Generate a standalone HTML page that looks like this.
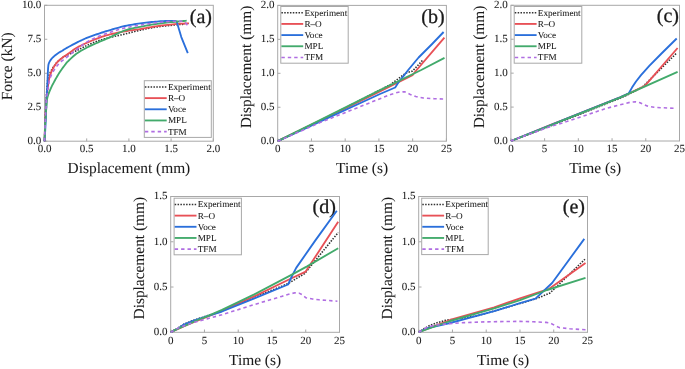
<!DOCTYPE html>
<html><head><meta charset="utf-8"><style>
html,body{margin:0;padding:0;background:#fff;}
svg{display:block;font-family:"Liberation Serif", serif;text-rendering:geometricPrecision;will-change:transform;}
text{stroke:#1a1a1a;stroke-width:0.06px;}
</style></head><body>
<svg width="685" height="369" viewBox="0 0 685 369">
<rect width="685" height="369" fill="#fff"/>
<rect x="44.5" y="5.3" width="168.8" height="135.9" fill="none" stroke="#a8a8a8" stroke-width="1"/>
<line x1="44.5" y1="141.2" x2="44.5" y2="138.4" stroke="#a8a8a8" stroke-width="1"/>
<text x="44.5" y="152.3" font-size="11" text-anchor="middle" fill="#1a1a1a">0.0</text>
<line x1="86.7" y1="141.2" x2="86.7" y2="138.4" stroke="#a8a8a8" stroke-width="1"/>
<text x="86.7" y="152.3" font-size="11" text-anchor="middle" fill="#1a1a1a">0.5</text>
<line x1="128.9" y1="141.2" x2="128.9" y2="138.4" stroke="#a8a8a8" stroke-width="1"/>
<text x="128.9" y="152.3" font-size="11" text-anchor="middle" fill="#1a1a1a">1.0</text>
<line x1="171.1" y1="141.2" x2="171.1" y2="138.4" stroke="#a8a8a8" stroke-width="1"/>
<text x="171.1" y="152.3" font-size="11" text-anchor="middle" fill="#1a1a1a">1.5</text>
<line x1="213.3" y1="141.2" x2="213.3" y2="138.4" stroke="#a8a8a8" stroke-width="1"/>
<text x="213.3" y="152.3" font-size="11" text-anchor="middle" fill="#1a1a1a">2.0</text>
<line x1="44.5" y1="141.2" x2="47.3" y2="141.2" stroke="#a8a8a8" stroke-width="1"/>
<text x="41.3" y="144.1" font-size="11" text-anchor="end" fill="#1a1a1a">0.0</text>
<line x1="44.5" y1="107.22" x2="47.3" y2="107.22" stroke="#a8a8a8" stroke-width="1"/>
<text x="41.3" y="110.12" font-size="11" text-anchor="end" fill="#1a1a1a">2.5</text>
<line x1="44.5" y1="73.25" x2="47.3" y2="73.25" stroke="#a8a8a8" stroke-width="1"/>
<text x="41.3" y="76.15" font-size="11" text-anchor="end" fill="#1a1a1a">5.0</text>
<line x1="44.5" y1="39.28" x2="47.3" y2="39.28" stroke="#a8a8a8" stroke-width="1"/>
<text x="41.3" y="42.18" font-size="11" text-anchor="end" fill="#1a1a1a">7.5</text>
<line x1="44.5" y1="5.3" x2="47.3" y2="5.3" stroke="#a8a8a8" stroke-width="1"/>
<text x="41.3" y="8.2" font-size="11" text-anchor="end" fill="#1a1a1a">10.0</text>
<text x="128.9" y="173.1" font-size="15.4" text-anchor="middle" fill="#1a1a1a">Displacement (mm)</text>
<text x="11.8" y="32.4" font-size="15.4" text-anchor="end" fill="#1a1a1a" transform="rotate(-90 11.8 32.4)">Force (kN)</text>
<text x="212.0" y="22.7" font-size="20" text-anchor="end" fill="#1a1a1a" style="stroke-width:0.3px">(a)</text>
<polyline points="44.50,141.20 44.56,139.41 44.63,137.03 44.72,134.19 44.83,131.04 44.94,127.70 45.05,124.33 45.18,121.05 45.30,118.00 45.43,115.03 45.58,111.93 45.74,108.79 45.91,105.67 46.07,102.66 46.23,99.83 46.37,97.25 46.50,95.00 46.61,93.10 46.71,91.50 46.80,90.14 46.88,88.96 46.96,87.91 47.04,86.94 47.12,85.98 47.20,85.00 47.28,84.02 47.36,83.11 47.44,82.26 47.51,81.47 47.59,80.72 47.68,80.02 47.78,79.35 47.90,78.70 48.02,78.11 48.15,77.59 48.29,77.12 48.43,76.68 48.59,76.25 48.77,75.81 48.97,75.33 49.20,74.80 49.46,74.20 49.76,73.56 50.08,72.89 50.42,72.20 50.77,71.51 51.12,70.84 51.47,70.20 51.80,69.60 52.12,69.05 52.45,68.52 52.77,68.02 53.10,67.53 53.42,67.06 53.75,66.60 54.07,66.15 54.40,65.70 54.71,65.27 54.99,64.86 55.27,64.47 55.55,64.08 55.85,63.69 56.18,63.29 56.56,62.86 57.00,62.40 57.51,61.89 58.10,61.33 58.73,60.75 59.39,60.15 60.06,59.56 60.74,58.99 61.39,58.47 62.00,58.00 62.58,57.59 63.13,57.23 63.68,56.91 64.21,56.61 64.75,56.33 65.29,56.06 65.83,55.79 66.40,55.50 66.98,55.21 67.56,54.94 68.14,54.67 68.73,54.41 69.33,54.15 69.94,53.88 70.56,53.60 71.20,53.30 71.82,53.00 72.40,52.72 72.98,52.44 73.58,52.15 74.22,51.83 74.94,51.48 75.75,51.07 76.70,50.60 77.80,50.05 79.03,49.42 80.36,48.73 81.77,48.01 83.22,47.27 84.68,46.54 86.11,45.85 87.50,45.20 88.85,44.59 90.20,44.00 91.55,43.42 92.89,42.86 94.24,42.32 95.59,41.79 96.95,41.29 98.30,40.80 99.62,40.35 100.90,39.92 102.16,39.53 103.44,39.15 104.75,38.78 106.13,38.40 107.60,38.01 109.20,37.60 110.94,37.17 112.82,36.73 114.79,36.29 116.83,35.84 118.90,35.38 120.98,34.92 123.02,34.46 125.00,34.00 126.93,33.53 128.84,33.05 130.75,32.55 132.64,32.06 134.53,31.58 136.42,31.10 138.31,30.64 140.20,30.20 142.06,29.78 143.87,29.38 145.67,28.99 147.47,28.61 149.30,28.24 151.20,27.88 153.19,27.54 155.30,27.20 157.61,26.87 160.13,26.54 162.78,26.22 165.47,25.91 168.12,25.61 170.65,25.35 172.97,25.11 175.00,24.90 176.78,24.73 178.42,24.60 179.90,24.49 181.23,24.41 182.41,24.34 183.43,24.29 184.29,24.24 185.00,24.20" fill="none" stroke="#333333" stroke-width="1.6" stroke-linejoin="round" stroke-dasharray="1.5 1.35"/>
<polyline points="44.50,141.20 44.56,139.57 44.63,137.41 44.72,134.84 44.82,131.97 44.93,128.94 45.05,125.85 45.17,122.83 45.30,120.00 45.44,117.22 45.59,114.31 45.75,111.35 45.92,108.39 46.09,105.52 46.26,102.78 46.43,100.25 46.60,98.00 46.76,96.05 46.91,94.36 47.06,92.87 47.21,91.53 47.36,90.28 47.53,89.06 47.70,87.82 47.90,86.50 48.11,85.12 48.32,83.74 48.55,82.37 48.78,81.01 49.03,79.69 49.30,78.40 49.59,77.17 49.90,76.00 50.24,74.89 50.60,73.84 50.98,72.83 51.38,71.86 51.80,70.93 52.22,70.03 52.66,69.16 53.10,68.30 53.54,67.47 53.99,66.67 54.45,65.90 54.92,65.16 55.40,64.44 55.91,63.74 56.44,63.06 57.00,62.40 57.59,61.76 58.22,61.14 58.87,60.55 59.54,59.98 60.22,59.42 60.91,58.88 61.61,58.34 62.30,57.80 62.97,57.28 63.63,56.80 64.28,56.34 64.94,55.89 65.63,55.42 66.35,54.93 67.14,54.39 68.00,53.80 68.93,53.14 69.91,52.42 70.95,51.67 72.03,50.88 73.15,50.09 74.31,49.30 75.49,48.53 76.70,47.80 77.95,47.10 79.25,46.40 80.60,45.72 81.97,45.05 83.36,44.39 84.75,43.75 86.14,43.11 87.50,42.50 88.85,41.90 90.20,41.32 91.55,40.74 92.89,40.19 94.24,39.64 95.59,39.12 96.95,38.60 98.30,38.10 99.62,37.62 100.90,37.16 102.16,36.71 103.44,36.28 104.75,35.86 106.13,35.44 107.60,35.02 109.20,34.60 110.94,34.17 112.82,33.74 114.79,33.30 116.83,32.87 118.90,32.45 120.98,32.04 123.02,31.66 125.00,31.30 126.93,30.98 128.84,30.68 130.75,30.42 132.64,30.16 134.53,29.91 136.42,29.66 138.31,29.39 140.20,29.10 142.06,28.78 143.87,28.45 145.67,28.11 147.47,27.76 149.30,27.41 151.20,27.06 153.19,26.72 155.30,26.40 157.58,26.08 160.04,25.76 162.60,25.44 165.22,25.13 167.83,24.84 170.37,24.56 172.78,24.31 175.00,24.10 177.12,23.92 179.23,23.78 181.28,23.65 183.23,23.56 185.03,23.48 186.62,23.41 187.96,23.35 189.00,23.30" fill="none" stroke="#e85056" stroke-width="1.85" stroke-linejoin="round"/>
<polyline points="44.50,141.20 44.58,140.02 44.68,138.54 44.80,136.79 44.93,134.79 45.07,132.58 45.22,130.19 45.36,127.65 45.50,125.00 45.64,122.04 45.78,118.65 45.92,114.98 46.07,111.21 46.21,107.46 46.35,103.91 46.48,100.71 46.60,98.00 46.71,95.81 46.81,94.01 46.90,92.51 46.99,91.22 47.08,90.06 47.16,88.94 47.23,87.78 47.30,86.50 47.36,85.13 47.42,83.77 47.47,82.42 47.51,81.09 47.56,79.78 47.60,78.50 47.65,77.23 47.70,76.00 47.76,74.77 47.81,73.53 47.87,72.30 47.93,71.09 47.99,69.94 48.05,68.86 48.12,67.88 48.20,67.00 48.27,66.26 48.33,65.66 48.39,65.16 48.46,64.72 48.54,64.32 48.65,63.92 48.80,63.49 49.00,63.00 49.24,62.46 49.50,61.91 49.80,61.35 50.12,60.79 50.49,60.22 50.88,59.64 51.32,59.07 51.80,58.50 52.33,57.92 52.93,57.32 53.57,56.72 54.24,56.12 54.94,55.53 55.64,54.95 56.33,54.41 57.00,53.90 57.67,53.43 58.36,52.98 59.06,52.55 59.76,52.15 60.44,51.77 61.10,51.40 61.72,51.04 62.30,50.70 62.77,50.40 63.13,50.17 63.42,49.96 63.70,49.77 64.02,49.55 64.45,49.29 65.02,48.95 65.80,48.50 66.81,47.93 68.01,47.26 69.35,46.52 70.79,45.73 72.29,44.91 73.81,44.10 75.29,43.32 76.70,42.60 78.05,41.92 79.41,41.26 80.76,40.61 82.11,39.97 83.45,39.35 84.80,38.74 86.15,38.16 87.50,37.60 88.85,37.07 90.20,36.56 91.55,36.07 92.89,35.61 94.24,35.15 95.59,34.70 96.95,34.25 98.30,33.80 99.62,33.35 100.90,32.92 102.16,32.50 103.44,32.08 104.75,31.66 106.13,31.22 107.60,30.77 109.20,30.30 110.94,29.79 112.82,29.24 114.79,28.67 116.83,28.09 118.90,27.52 120.98,26.97 123.02,26.46 125.00,26.00 126.93,25.59 128.84,25.21 130.75,24.86 132.64,24.54 134.53,24.23 136.42,23.95 138.31,23.67 140.20,23.40 142.11,23.14 144.04,22.89 145.98,22.66 147.91,22.44 149.82,22.23 151.70,22.04 153.53,21.86 155.30,21.70 157.03,21.55 158.74,21.42 160.42,21.29 162.06,21.19 163.65,21.09 165.18,21.02 166.63,20.95 168.00,20.90 169.32,20.87 170.62,20.86 171.87,20.88 173.04,20.90 174.12,20.93 175.07,20.96 175.87,20.99 176.50,21.00" fill="none" stroke="#2a6fdb" stroke-width="1.85" stroke-linejoin="round"/>
<polyline points="176.50,21.00 181.30,37.10 187.80,53.10" fill="none" stroke="#2a6fdb" stroke-width="1.85" stroke-linejoin="round"/>
<polyline points="44.50,141.20 44.56,139.68 44.64,137.63 44.73,135.18 44.84,132.47 44.95,129.66 45.07,126.88 45.18,124.28 45.30,122.00 45.42,119.97 45.54,118.04 45.66,116.19 45.79,114.42 45.92,112.73 46.05,111.10 46.17,109.52 46.30,108.00 46.41,106.55 46.50,105.19 46.58,103.91 46.66,102.68 46.76,101.49 46.90,100.33 47.07,99.17 47.30,98.00 47.59,96.83 47.93,95.67 48.31,94.53 48.72,93.41 49.15,92.31 49.60,91.22 50.05,90.15 50.50,89.10 50.94,88.08 51.39,87.10 51.85,86.15 52.32,85.21 52.80,84.27 53.31,83.32 53.84,82.33 54.40,81.30 55.00,80.21 55.63,79.07 56.29,77.90 56.97,76.71 57.66,75.53 58.35,74.37 59.03,73.26 59.70,72.20 60.37,71.19 61.06,70.18 61.75,69.21 62.44,68.26 63.11,67.36 63.75,66.51 64.35,65.72 64.90,65.00 65.35,64.40 65.69,63.92 65.97,63.53 66.23,63.18 66.52,62.83 66.88,62.42 67.36,61.93 68.00,61.30 68.81,60.52 69.73,59.62 70.76,58.64 71.87,57.61 73.04,56.56 74.25,55.52 75.47,54.52 76.70,53.60 77.95,52.74 79.25,51.90 80.60,51.08 81.97,50.28 83.36,49.51 84.75,48.75 86.14,48.02 87.50,47.30 88.85,46.61 90.20,45.95 91.55,45.32 92.89,44.70 94.24,44.10 95.59,43.50 96.95,42.90 98.30,42.30 99.62,41.72 100.90,41.16 102.16,40.63 103.44,40.09 104.75,39.53 106.13,38.94 107.60,38.31 109.20,37.60 110.94,36.80 112.82,35.89 114.79,34.92 116.83,33.93 118.90,32.95 120.98,32.01 123.02,31.14 125.00,30.40 126.93,29.77 128.84,29.23 130.75,28.75 132.64,28.32 134.53,27.93 136.42,27.55 138.31,27.18 140.20,26.80 142.09,26.41 143.98,26.04 145.87,25.69 147.75,25.34 149.63,25.01 151.52,24.70 153.41,24.39 155.30,24.10 157.19,23.82 159.07,23.56 160.95,23.31 162.83,23.08 164.72,22.85 166.63,22.63 168.55,22.41 170.50,22.20 172.59,21.98 174.86,21.76 177.21,21.54 179.55,21.33 181.77,21.14 183.77,20.96 185.44,20.81 186.70,20.70" fill="none" stroke="#42aa6b" stroke-width="1.85" stroke-linejoin="round"/>
<polyline points="44.50,141.20 44.56,139.56 44.63,137.39 44.72,134.79 44.82,131.91 44.93,128.87 45.05,125.78 45.17,122.79 45.30,120.00 45.44,117.30 45.58,114.50 45.74,111.67 45.90,108.86 46.07,106.13 46.24,103.54 46.42,101.15 46.60,99.00 46.78,97.13 46.98,95.51 47.17,94.07 47.38,92.77 47.58,91.56 47.79,90.40 47.99,89.23 48.20,88.00 48.39,86.75 48.55,85.55 48.71,84.38 48.87,83.23 49.05,82.10 49.28,80.97 49.55,79.84 49.90,78.70 50.32,77.54 50.81,76.35 51.35,75.16 51.92,73.98 52.53,72.82 53.15,71.69 53.78,70.62 54.40,69.60 55.01,68.65 55.64,67.75 56.27,66.89 56.91,66.07 57.57,65.28 58.26,64.51 58.97,63.76 59.70,63.00 60.45,62.28 61.19,61.61 61.95,60.97 62.74,60.34 63.56,59.70 64.44,59.03 65.38,58.30 66.40,57.50 67.51,56.62 68.71,55.67 69.98,54.68 71.29,53.65 72.64,52.60 74.01,51.55 75.36,50.51 76.70,49.50 78.03,48.49 79.36,47.45 80.71,46.40 82.07,45.36 83.43,44.35 84.79,43.37 86.15,42.45 87.50,41.60 88.85,40.83 90.20,40.12 91.55,39.47 92.89,38.86 94.24,38.27 95.59,37.71 96.95,37.16 98.30,36.60 99.62,36.06 100.90,35.55 102.16,35.06 103.44,34.58 104.75,34.11 106.13,33.63 107.60,33.13 109.20,32.60 110.92,32.04 112.73,31.44 114.63,30.83 116.59,30.21 118.63,29.60 120.71,29.00 122.84,28.43 125.00,27.90 127.27,27.40 129.71,26.92 132.23,26.46 134.78,26.01 137.30,25.59 139.72,25.20 141.97,24.83 144.00,24.50 145.75,24.20 147.27,23.95 148.63,23.72 149.89,23.52 151.12,23.34 152.38,23.16 153.75,22.99 155.30,22.80 157.05,22.60 158.96,22.40 160.96,22.20 163.01,22.01 165.05,21.82 167.01,21.66 168.85,21.52 170.50,21.40 172.00,21.31 173.40,21.25 174.72,21.20 175.95,21.18 177.09,21.16 178.15,21.17 179.11,21.18 180.00,21.20 180.78,21.23 181.43,21.27 181.99,21.32 182.47,21.38 182.89,21.46 183.27,21.55 183.63,21.67 184.00,21.80 184.35,21.96 184.65,22.14 184.92,22.35 185.16,22.57 185.37,22.80 185.58,23.04 185.79,23.27 186.00,23.50 186.22,23.74 186.45,24.01 186.67,24.28 186.88,24.56 187.07,24.82 187.24,25.05 187.39,25.25 187.50,25.40" fill="none" stroke="#b06ee2" stroke-width="1.6" stroke-linejoin="round" stroke-dasharray="3.4 3.0"/>
<rect x="144.3" y="80.7" width="67.0" height="56.7" fill="#fff" stroke="#a8a8a8" stroke-width="1"/>
<polyline points="144.90,86.95 166.70,86.95" fill="none" stroke="#333333" stroke-width="1.6" stroke-linejoin="round" stroke-dasharray="1.5 1.35"/>
<text x="167.9" y="89.85" font-size="9.2" text-anchor="start" fill="#1a1a1a">Experiment</text>
<polyline points="144.90,98.12 166.70,98.12" fill="none" stroke="#e85056" stroke-width="1.85" stroke-linejoin="round"/>
<text x="167.9" y="101.02" font-size="9.2" text-anchor="start" fill="#1a1a1a">R–O</text>
<polyline points="144.90,109.29 166.70,109.29" fill="none" stroke="#2a6fdb" stroke-width="1.85" stroke-linejoin="round"/>
<text x="167.9" y="112.19" font-size="9.2" text-anchor="start" fill="#1a1a1a">Voce</text>
<polyline points="144.90,120.46 166.70,120.46" fill="none" stroke="#42aa6b" stroke-width="1.85" stroke-linejoin="round"/>
<text x="167.9" y="123.36" font-size="9.2" text-anchor="start" fill="#1a1a1a">MPL</text>
<polyline points="144.90,131.63 166.70,131.63" fill="none" stroke="#b06ee2" stroke-width="1.6" stroke-linejoin="round" stroke-dasharray="3.4 3.0"/>
<text x="167.9" y="134.53" font-size="9.2" text-anchor="start" fill="#1a1a1a">TFM</text>
<rect x="277.7" y="5.4" width="168.7" height="135.8" fill="none" stroke="#a8a8a8" stroke-width="1"/>
<line x1="277.7" y1="141.2" x2="277.7" y2="138.4" stroke="#a8a8a8" stroke-width="1"/>
<text x="277.7" y="152.3" font-size="11" text-anchor="middle" fill="#1a1a1a">0</text>
<line x1="311.44" y1="141.2" x2="311.44" y2="138.4" stroke="#a8a8a8" stroke-width="1"/>
<text x="311.44" y="152.3" font-size="11" text-anchor="middle" fill="#1a1a1a">5</text>
<line x1="345.18" y1="141.2" x2="345.18" y2="138.4" stroke="#a8a8a8" stroke-width="1"/>
<text x="345.18" y="152.3" font-size="11" text-anchor="middle" fill="#1a1a1a">10</text>
<line x1="378.92" y1="141.2" x2="378.92" y2="138.4" stroke="#a8a8a8" stroke-width="1"/>
<text x="378.92" y="152.3" font-size="11" text-anchor="middle" fill="#1a1a1a">15</text>
<line x1="412.66" y1="141.2" x2="412.66" y2="138.4" stroke="#a8a8a8" stroke-width="1"/>
<text x="412.66" y="152.3" font-size="11" text-anchor="middle" fill="#1a1a1a">20</text>
<line x1="446.4" y1="141.2" x2="446.4" y2="138.4" stroke="#a8a8a8" stroke-width="1"/>
<text x="446.4" y="152.3" font-size="11" text-anchor="middle" fill="#1a1a1a">25</text>
<line x1="277.7" y1="141.2" x2="280.5" y2="141.2" stroke="#a8a8a8" stroke-width="1"/>
<text x="274.5" y="144.1" font-size="11" text-anchor="end" fill="#1a1a1a">0.0</text>
<line x1="277.7" y1="107.25" x2="280.5" y2="107.25" stroke="#a8a8a8" stroke-width="1"/>
<text x="274.5" y="110.15" font-size="11" text-anchor="end" fill="#1a1a1a">0.5</text>
<line x1="277.7" y1="73.3" x2="280.5" y2="73.3" stroke="#a8a8a8" stroke-width="1"/>
<text x="274.5" y="76.2" font-size="11" text-anchor="end" fill="#1a1a1a">1.0</text>
<line x1="277.7" y1="39.35" x2="280.5" y2="39.35" stroke="#a8a8a8" stroke-width="1"/>
<text x="274.5" y="42.25" font-size="11" text-anchor="end" fill="#1a1a1a">1.5</text>
<line x1="277.7" y1="5.4" x2="280.5" y2="5.4" stroke="#a8a8a8" stroke-width="1"/>
<text x="274.5" y="8.3" font-size="11" text-anchor="end" fill="#1a1a1a">2.0</text>
<text x="362.05" y="173.1" font-size="15.4" text-anchor="middle" fill="#1a1a1a">Time (s)</text>
<text x="251.0" y="5.7" font-size="15.4" text-anchor="end" fill="#1a1a1a" transform="rotate(-90 251.0 5.7)">Displacement (mm)</text>
<text x="444.6" y="22.7" font-size="20" text-anchor="end" fill="#1a1a1a" style="stroke-width:0.3px">(b)</text>
<polyline points="277.70,141.20 320.00,120.80 390.80,84.40 405.70,73.10 412.50,71.10 423.30,59.60" fill="none" stroke="#333333" stroke-width="1.6" stroke-linejoin="round" stroke-dasharray="1.5 1.35"/>
<polyline points="277.70,141.20 320.00,120.60 380.00,91.30 412.50,75.20 415.80,71.00 444.40,37.60" fill="none" stroke="#e85056" stroke-width="1.85" stroke-linejoin="round"/>
<polyline points="277.70,141.20 320.00,121.60 380.00,94.00 395.20,87.50 399.00,81.50 404.90,74.30 408.20,70.00 418.60,57.50 432.10,44.00 443.60,32.00" fill="none" stroke="#2a6fdb" stroke-width="1.85" stroke-linejoin="round"/>
<polyline points="277.70,141.20 320.00,120.10 380.00,90.20 421.20,70.00 444.50,57.90" fill="none" stroke="#42aa6b" stroke-width="1.85" stroke-linejoin="round"/>
<polyline points="277.70,141.20 320.00,122.60 380.00,98.70 390.80,94.40 398.40,92.20 404.40,91.70 410.30,94.40 415.80,96.50 423.30,98.00 434.20,98.70 442.80,99.00 444.80,99.00" fill="none" stroke="#b06ee2" stroke-width="1.6" stroke-linejoin="round" stroke-dasharray="3.4 3.0"/>
<rect x="280.8" y="6.5" width="67.4" height="56.7" fill="#fff" stroke="#a8a8a8" stroke-width="1"/>
<polyline points="281.40,12.75 303.20,12.75" fill="none" stroke="#333333" stroke-width="1.6" stroke-linejoin="round" stroke-dasharray="1.5 1.35"/>
<text x="304.4" y="15.65" font-size="9.2" text-anchor="start" fill="#1a1a1a">Experiment</text>
<polyline points="281.40,23.92 303.20,23.92" fill="none" stroke="#e85056" stroke-width="1.85" stroke-linejoin="round"/>
<text x="304.4" y="26.82" font-size="9.2" text-anchor="start" fill="#1a1a1a">R–O</text>
<polyline points="281.40,35.09 303.20,35.09" fill="none" stroke="#2a6fdb" stroke-width="1.85" stroke-linejoin="round"/>
<text x="304.4" y="37.99" font-size="9.2" text-anchor="start" fill="#1a1a1a">Voce</text>
<polyline points="281.40,46.26 303.20,46.26" fill="none" stroke="#42aa6b" stroke-width="1.85" stroke-linejoin="round"/>
<text x="304.4" y="49.16" font-size="9.2" text-anchor="start" fill="#1a1a1a">MPL</text>
<polyline points="281.40,57.43 303.20,57.43" fill="none" stroke="#b06ee2" stroke-width="1.6" stroke-linejoin="round" stroke-dasharray="3.4 3.0"/>
<text x="304.4" y="60.33" font-size="9.2" text-anchor="start" fill="#1a1a1a">TFM</text>
<rect x="510.9" y="5.3" width="168.6" height="135.7" fill="none" stroke="#a8a8a8" stroke-width="1"/>
<line x1="510.9" y1="141.0" x2="510.9" y2="138.2" stroke="#a8a8a8" stroke-width="1"/>
<text x="510.9" y="152.1" font-size="11" text-anchor="middle" fill="#1a1a1a">0</text>
<line x1="544.62" y1="141.0" x2="544.62" y2="138.2" stroke="#a8a8a8" stroke-width="1"/>
<text x="544.62" y="152.1" font-size="11" text-anchor="middle" fill="#1a1a1a">5</text>
<line x1="578.34" y1="141.0" x2="578.34" y2="138.2" stroke="#a8a8a8" stroke-width="1"/>
<text x="578.34" y="152.1" font-size="11" text-anchor="middle" fill="#1a1a1a">10</text>
<line x1="612.06" y1="141.0" x2="612.06" y2="138.2" stroke="#a8a8a8" stroke-width="1"/>
<text x="612.06" y="152.1" font-size="11" text-anchor="middle" fill="#1a1a1a">15</text>
<line x1="645.78" y1="141.0" x2="645.78" y2="138.2" stroke="#a8a8a8" stroke-width="1"/>
<text x="645.78" y="152.1" font-size="11" text-anchor="middle" fill="#1a1a1a">20</text>
<line x1="679.5" y1="141.0" x2="679.5" y2="138.2" stroke="#a8a8a8" stroke-width="1"/>
<text x="679.5" y="152.1" font-size="11" text-anchor="middle" fill="#1a1a1a">25</text>
<line x1="510.9" y1="141.0" x2="513.7" y2="141.0" stroke="#a8a8a8" stroke-width="1"/>
<text x="507.7" y="143.9" font-size="11" text-anchor="end" fill="#1a1a1a">0.0</text>
<line x1="510.9" y1="107.08" x2="513.7" y2="107.08" stroke="#a8a8a8" stroke-width="1"/>
<text x="507.7" y="109.98" font-size="11" text-anchor="end" fill="#1a1a1a">0.5</text>
<line x1="510.9" y1="73.15" x2="513.7" y2="73.15" stroke="#a8a8a8" stroke-width="1"/>
<text x="507.7" y="76.05" font-size="11" text-anchor="end" fill="#1a1a1a">1.0</text>
<line x1="510.9" y1="39.23" x2="513.7" y2="39.23" stroke="#a8a8a8" stroke-width="1"/>
<text x="507.7" y="42.13" font-size="11" text-anchor="end" fill="#1a1a1a">1.5</text>
<line x1="510.9" y1="5.3" x2="513.7" y2="5.3" stroke="#a8a8a8" stroke-width="1"/>
<text x="507.7" y="8.2" font-size="11" text-anchor="end" fill="#1a1a1a">2.0</text>
<text x="595.2" y="172.9" font-size="15.4" text-anchor="middle" fill="#1a1a1a">Time (s)</text>
<text x="484.3" y="5.6" font-size="15.4" text-anchor="end" fill="#1a1a1a" transform="rotate(-90 484.3 5.6)">Displacement (mm)</text>
<text x="679.0" y="22.3" font-size="20" text-anchor="end" fill="#1a1a1a" style="stroke-width:0.3px">(c)</text>
<polyline points="510.90,141.00 527.50,134.90 550.00,126.00 566.60,119.50 620.00,98.30 628.80,94.30 642.60,86.90 676.70,53.00" fill="none" stroke="#333333" stroke-width="1.6" stroke-linejoin="round" stroke-dasharray="1.5 1.35"/>
<polyline points="510.90,141.00 527.50,134.30 550.00,125.20 566.60,118.60 620.00,97.40 628.80,93.60 644.90,85.80 677.60,48.00" fill="none" stroke="#e85056" stroke-width="1.85" stroke-linejoin="round"/>
<polyline points="510.90,141.00 527.50,134.30 550.00,125.30 566.60,118.70 620.00,97.30 628.80,93.30 632.00,87.60 636.00,81.50 641.00,75.10 649.50,65.60 661.00,54.00 676.70,38.50" fill="none" stroke="#2a6fdb" stroke-width="1.85" stroke-linejoin="round"/>
<polyline points="510.90,141.00 527.50,134.50 550.00,125.50 566.60,118.90 620.00,97.70 628.80,93.60 677.60,71.90" fill="none" stroke="#42aa6b" stroke-width="1.85" stroke-linejoin="round"/>
<polyline points="510.90,141.00 527.50,134.80 550.00,126.70 566.60,121.60 605.60,108.60 620.00,104.80 630.00,102.30 635.70,101.80 640.00,102.80 644.00,104.60 647.20,106.00 654.00,107.20 661.00,107.70 674.90,108.30" fill="none" stroke="#b06ee2" stroke-width="1.6" stroke-linejoin="round" stroke-dasharray="3.4 3.0"/>
<rect x="514.2" y="6.5" width="67.6" height="56.7" fill="#fff" stroke="#a8a8a8" stroke-width="1"/>
<polyline points="514.80,12.75 536.60,12.75" fill="none" stroke="#333333" stroke-width="1.6" stroke-linejoin="round" stroke-dasharray="1.5 1.35"/>
<text x="537.8" y="15.65" font-size="9.2" text-anchor="start" fill="#1a1a1a">Experiment</text>
<polyline points="514.80,23.92 536.60,23.92" fill="none" stroke="#e85056" stroke-width="1.85" stroke-linejoin="round"/>
<text x="537.8" y="26.82" font-size="9.2" text-anchor="start" fill="#1a1a1a">R–O</text>
<polyline points="514.80,35.09 536.60,35.09" fill="none" stroke="#2a6fdb" stroke-width="1.85" stroke-linejoin="round"/>
<text x="537.8" y="37.99" font-size="9.2" text-anchor="start" fill="#1a1a1a">Voce</text>
<polyline points="514.80,46.26 536.60,46.26" fill="none" stroke="#42aa6b" stroke-width="1.85" stroke-linejoin="round"/>
<text x="537.8" y="49.16" font-size="9.2" text-anchor="start" fill="#1a1a1a">MPL</text>
<polyline points="514.80,57.43 536.60,57.43" fill="none" stroke="#b06ee2" stroke-width="1.6" stroke-linejoin="round" stroke-dasharray="3.4 3.0"/>
<text x="537.8" y="60.33" font-size="9.2" text-anchor="start" fill="#1a1a1a">TFM</text>
<rect x="170.7" y="196.5" width="168.8" height="135.8" fill="none" stroke="#a8a8a8" stroke-width="1"/>
<line x1="170.7" y1="332.3" x2="170.7" y2="329.5" stroke="#a8a8a8" stroke-width="1"/>
<text x="170.7" y="344" font-size="11" text-anchor="middle" fill="#1a1a1a">0</text>
<line x1="204.46" y1="332.3" x2="204.46" y2="329.5" stroke="#a8a8a8" stroke-width="1"/>
<text x="204.46" y="344" font-size="11" text-anchor="middle" fill="#1a1a1a">5</text>
<line x1="238.22" y1="332.3" x2="238.22" y2="329.5" stroke="#a8a8a8" stroke-width="1"/>
<text x="238.22" y="344" font-size="11" text-anchor="middle" fill="#1a1a1a">10</text>
<line x1="271.98" y1="332.3" x2="271.98" y2="329.5" stroke="#a8a8a8" stroke-width="1"/>
<text x="271.98" y="344" font-size="11" text-anchor="middle" fill="#1a1a1a">15</text>
<line x1="305.74" y1="332.3" x2="305.74" y2="329.5" stroke="#a8a8a8" stroke-width="1"/>
<text x="305.74" y="344" font-size="11" text-anchor="middle" fill="#1a1a1a">20</text>
<line x1="339.5" y1="332.3" x2="339.5" y2="329.5" stroke="#a8a8a8" stroke-width="1"/>
<text x="339.5" y="344" font-size="11" text-anchor="middle" fill="#1a1a1a">25</text>
<line x1="170.7" y1="332.3" x2="173.5" y2="332.3" stroke="#a8a8a8" stroke-width="1"/>
<text x="167.5" y="335.2" font-size="11" text-anchor="end" fill="#1a1a1a">0.0</text>
<line x1="170.7" y1="287.03" x2="173.5" y2="287.03" stroke="#a8a8a8" stroke-width="1"/>
<text x="167.5" y="289.93" font-size="11" text-anchor="end" fill="#1a1a1a">0.5</text>
<line x1="170.7" y1="241.77" x2="173.5" y2="241.77" stroke="#a8a8a8" stroke-width="1"/>
<text x="167.5" y="244.67" font-size="11" text-anchor="end" fill="#1a1a1a">1.0</text>
<line x1="170.7" y1="196.5" x2="173.5" y2="196.5" stroke="#a8a8a8" stroke-width="1"/>
<text x="167.5" y="199.4" font-size="11" text-anchor="end" fill="#1a1a1a">1.5</text>
<text x="255.1" y="364.8" font-size="15.4" text-anchor="middle" fill="#1a1a1a">Time (s)</text>
<text x="144.1" y="196.8" font-size="15.4" text-anchor="end" fill="#1a1a1a" transform="rotate(-90 144.1 196.8)">Displacement (mm)</text>
<text x="335.8" y="213.3" font-size="20" text-anchor="end" fill="#1a1a1a" style="stroke-width:0.3px">(d)</text>
<polyline points="170.70,332.20 176.00,329.20 179.20,327.30 183.80,324.20 193.00,320.50 208.00,315.50 222.00,311.00 253.80,297.60 288.10,283.60 304.70,273.50 338.20,232.50" fill="none" stroke="#333333" stroke-width="1.6" stroke-linejoin="round" stroke-dasharray="1.5 1.35"/>
<polyline points="170.70,332.20 179.20,328.30 188.10,324.40 208.10,316.50 222.00,310.60 253.80,296.60 290.00,279.00 305.70,271.60 338.20,221.70" fill="none" stroke="#e85056" stroke-width="1.85" stroke-linejoin="round"/>
<polyline points="170.70,332.20 176.00,329.50 179.20,327.80 183.80,324.60 193.00,320.90 208.10,315.90 222.00,311.50 253.80,298.60 288.10,284.50 292.00,276.00 296.20,267.90 315.20,240.60 336.80,210.80" fill="none" stroke="#2a6fdb" stroke-width="1.85" stroke-linejoin="round"/>
<polyline points="170.70,332.20 179.20,328.20 188.10,324.30 197.60,320.00 208.10,315.80 222.00,309.90 253.80,294.60 290.00,275.60 307.10,266.40 338.20,248.20" fill="none" stroke="#42aa6b" stroke-width="1.85" stroke-linejoin="round"/>
<polyline points="170.70,332.20 179.20,327.60 193.00,322.60 206.90,318.90 222.00,314.70 253.80,304.70 281.60,296.40 290.00,293.90 295.00,292.80 299.00,293.10 302.00,294.60 306.00,297.80 312.50,299.00 319.00,299.80 325.50,300.30 337.40,301.20" fill="none" stroke="#b06ee2" stroke-width="1.6" stroke-linejoin="round" stroke-dasharray="3.4 3.0"/>
<rect x="174.1" y="198.2" width="67.3" height="56.6" fill="#fff" stroke="#a8a8a8" stroke-width="1"/>
<polyline points="174.70,204.45 196.50,204.45" fill="none" stroke="#333333" stroke-width="1.6" stroke-linejoin="round" stroke-dasharray="1.5 1.35"/>
<text x="197.7" y="207.35" font-size="9.2" text-anchor="start" fill="#1a1a1a">Experiment</text>
<polyline points="174.70,215.62 196.50,215.62" fill="none" stroke="#e85056" stroke-width="1.85" stroke-linejoin="round"/>
<text x="197.7" y="218.52" font-size="9.2" text-anchor="start" fill="#1a1a1a">R–O</text>
<polyline points="174.70,226.79 196.50,226.79" fill="none" stroke="#2a6fdb" stroke-width="1.85" stroke-linejoin="round"/>
<text x="197.7" y="229.69" font-size="9.2" text-anchor="start" fill="#1a1a1a">Voce</text>
<polyline points="174.70,237.96 196.50,237.96" fill="none" stroke="#42aa6b" stroke-width="1.85" stroke-linejoin="round"/>
<text x="197.7" y="240.86" font-size="9.2" text-anchor="start" fill="#1a1a1a">MPL</text>
<polyline points="174.70,249.13 196.50,249.13" fill="none" stroke="#b06ee2" stroke-width="1.6" stroke-linejoin="round" stroke-dasharray="3.4 3.0"/>
<text x="197.7" y="252.03" font-size="9.2" text-anchor="start" fill="#1a1a1a">TFM</text>
<rect x="418.7" y="196.5" width="168.8" height="135.8" fill="none" stroke="#a8a8a8" stroke-width="1"/>
<line x1="418.7" y1="332.3" x2="418.7" y2="329.5" stroke="#a8a8a8" stroke-width="1"/>
<text x="418.7" y="344" font-size="11" text-anchor="middle" fill="#1a1a1a">0</text>
<line x1="452.46" y1="332.3" x2="452.46" y2="329.5" stroke="#a8a8a8" stroke-width="1"/>
<text x="452.46" y="344" font-size="11" text-anchor="middle" fill="#1a1a1a">5</text>
<line x1="486.22" y1="332.3" x2="486.22" y2="329.5" stroke="#a8a8a8" stroke-width="1"/>
<text x="486.22" y="344" font-size="11" text-anchor="middle" fill="#1a1a1a">10</text>
<line x1="519.98" y1="332.3" x2="519.98" y2="329.5" stroke="#a8a8a8" stroke-width="1"/>
<text x="519.98" y="344" font-size="11" text-anchor="middle" fill="#1a1a1a">15</text>
<line x1="553.74" y1="332.3" x2="553.74" y2="329.5" stroke="#a8a8a8" stroke-width="1"/>
<text x="553.74" y="344" font-size="11" text-anchor="middle" fill="#1a1a1a">20</text>
<line x1="587.5" y1="332.3" x2="587.5" y2="329.5" stroke="#a8a8a8" stroke-width="1"/>
<text x="587.5" y="344" font-size="11" text-anchor="middle" fill="#1a1a1a">25</text>
<line x1="418.7" y1="332.3" x2="421.5" y2="332.3" stroke="#a8a8a8" stroke-width="1"/>
<text x="415.5" y="335.2" font-size="11" text-anchor="end" fill="#1a1a1a">0.0</text>
<line x1="418.7" y1="287.03" x2="421.5" y2="287.03" stroke="#a8a8a8" stroke-width="1"/>
<text x="415.5" y="289.93" font-size="11" text-anchor="end" fill="#1a1a1a">0.5</text>
<line x1="418.7" y1="241.77" x2="421.5" y2="241.77" stroke="#a8a8a8" stroke-width="1"/>
<text x="415.5" y="244.67" font-size="11" text-anchor="end" fill="#1a1a1a">1.0</text>
<line x1="418.7" y1="196.5" x2="421.5" y2="196.5" stroke="#a8a8a8" stroke-width="1"/>
<text x="415.5" y="199.4" font-size="11" text-anchor="end" fill="#1a1a1a">1.5</text>
<text x="503.1" y="364.8" font-size="15.4" text-anchor="middle" fill="#1a1a1a">Time (s)</text>
<text x="391.8" y="196.8" font-size="15.4" text-anchor="end" fill="#1a1a1a" transform="rotate(-90 391.8 196.8)">Displacement (mm)</text>
<text x="585.0" y="213.1" font-size="20" text-anchor="end" fill="#1a1a1a" style="stroke-width:0.3px">(e)</text>
<polyline points="418.70,332.20 424.00,328.70 427.20,326.90 430.00,325.30 436.40,323.00 445.60,320.30 477.10,315.90 494.20,311.00 520.00,303.50 537.30,298.30 550.00,293.00 584.90,259.20" fill="none" stroke="#333333" stroke-width="1.6" stroke-linejoin="round" stroke-dasharray="1.5 1.35"/>
<polyline points="418.70,332.20 450.00,320.00 494.20,307.30 520.00,298.40 549.20,288.80 585.50,263.00" fill="none" stroke="#e85056" stroke-width="1.85" stroke-linejoin="round"/>
<polyline points="418.70,332.20 427.70,328.20 450.00,323.00 494.20,311.20 520.00,303.10 535.50,298.60 552.10,283.00 584.30,238.90" fill="none" stroke="#2a6fdb" stroke-width="1.85" stroke-linejoin="round"/>
<polyline points="418.70,332.20 450.00,321.00 494.20,308.40 520.00,300.10 547.10,290.00 585.50,277.90" fill="none" stroke="#42aa6b" stroke-width="1.85" stroke-linejoin="round"/>
<polyline points="418.70,332.20 427.70,327.00 435.00,325.20 450.00,323.60 465.00,322.60 484.50,321.90 504.00,321.50 520.00,321.40 533.40,321.80 546.00,322.40 550.00,323.00 555.00,325.50 559.40,327.60 570.00,328.80 585.50,329.70" fill="none" stroke="#b06ee2" stroke-width="1.6" stroke-linejoin="round" stroke-dasharray="3.4 3.0"/>
<rect x="421.7" y="198.2" width="66.5" height="56.4" fill="#fff" stroke="#a8a8a8" stroke-width="1"/>
<polyline points="422.30,204.45 444.10,204.45" fill="none" stroke="#333333" stroke-width="1.6" stroke-linejoin="round" stroke-dasharray="1.5 1.35"/>
<text x="445.3" y="207.35" font-size="9.2" text-anchor="start" fill="#1a1a1a">Experiment</text>
<polyline points="422.30,215.62 444.10,215.62" fill="none" stroke="#e85056" stroke-width="1.85" stroke-linejoin="round"/>
<text x="445.3" y="218.52" font-size="9.2" text-anchor="start" fill="#1a1a1a">R–O</text>
<polyline points="422.30,226.79 444.10,226.79" fill="none" stroke="#2a6fdb" stroke-width="1.85" stroke-linejoin="round"/>
<text x="445.3" y="229.69" font-size="9.2" text-anchor="start" fill="#1a1a1a">Voce</text>
<polyline points="422.30,237.96 444.10,237.96" fill="none" stroke="#42aa6b" stroke-width="1.85" stroke-linejoin="round"/>
<text x="445.3" y="240.86" font-size="9.2" text-anchor="start" fill="#1a1a1a">MPL</text>
<polyline points="422.30,249.13 444.10,249.13" fill="none" stroke="#b06ee2" stroke-width="1.6" stroke-linejoin="round" stroke-dasharray="3.4 3.0"/>
<text x="445.3" y="252.03" font-size="9.2" text-anchor="start" fill="#1a1a1a">TFM</text>
</svg>
</body></html>
